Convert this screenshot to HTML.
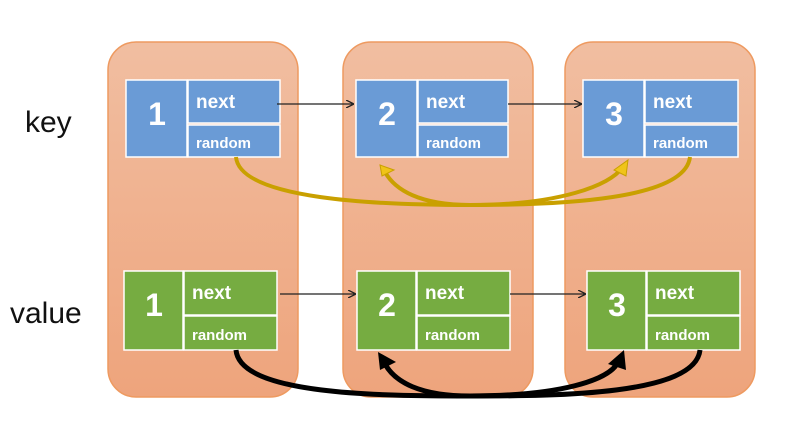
<html><head><style>body{margin:0;background:#fff}</style></head><body>
<svg width="797" height="446" xmlns="http://www.w3.org/2000/svg" font-family="Liberation Sans, sans-serif">
<defs>
<linearGradient id="g" x1="0" y1="0" x2="0" y2="1"><stop offset="0" stop-color="#f1bea1"/><stop offset="1" stop-color="#eea47c"/></linearGradient>
<marker id="a" markerWidth="8" markerHeight="8" refX="7" refY="4" orient="auto" markerUnits="userSpaceOnUse"><path d="M0,0 L8,4 L0,8" fill="none" stroke="#222" stroke-width="1.3"/></marker>
</defs>
<g fill="url(#g)" stroke="#ee9a60" stroke-width="1.5">
<rect x="108" y="42" width="190" height="355" rx="28"/>
<rect x="343" y="42" width="190" height="355" rx="28"/>
<rect x="565" y="42" width="190" height="355" rx="28"/>
</g>
<text x="25" y="132" font-size="30" fill="#111">key</text>
<text x="10" y="323" font-size="30" fill="#111">value</text>
<g stroke="#fff" stroke-width="1.5" fill="#6a9bd6">
<rect x="126" y="80" width="61" height="77"/><rect x="188" y="80" width="92" height="43"/><rect x="188" y="125" width="92" height="32"/>
<rect x="356" y="80" width="61" height="77"/><rect x="418" y="80" width="90" height="43"/><rect x="418" y="125" width="90" height="32"/>
<rect x="583" y="80" width="61" height="77"/><rect x="645" y="80" width="93" height="43"/><rect x="645" y="125" width="93" height="32"/>
</g>
<g stroke="#fff" stroke-width="1.5" fill="#76ac41">
<rect x="124" y="271" width="59" height="79"/><rect x="184" y="271" width="93" height="44"/><rect x="184" y="316" width="93" height="34"/>
<rect x="357" y="271" width="59" height="79"/><rect x="417" y="271" width="93" height="44"/><rect x="417" y="316" width="93" height="34"/>
<rect x="587" y="271" width="59" height="79"/><rect x="647" y="271" width="93" height="44"/><rect x="647" y="316" width="93" height="34"/>
</g>
<g fill="#fff" font-weight="bold">
<g font-size="32" text-anchor="middle"><text x="157" y="125">1</text><text x="387" y="125">2</text><text x="614" y="125">3</text>
<text x="154" y="316">1</text><text x="387" y="316">2</text><text x="617" y="316">3</text></g>
<g font-size="19"><text x="196" y="108">next</text><text x="426" y="108">next</text><text x="653" y="108">next</text>
<text x="192" y="299">next</text><text x="425" y="299">next</text><text x="655" y="299">next</text></g>
<g font-size="15"><text x="196" y="148">random</text><text x="426" y="148">random</text><text x="653" y="148">random</text>
<text x="192" y="340">random</text><text x="425" y="340">random</text><text x="655" y="340">random</text></g>
</g>
<g stroke="#222" stroke-width="1.3" marker-end="url(#a)">
<line x1="277" y1="104" x2="353" y2="104"/><line x1="508" y1="104" x2="581" y2="104"/>
<line x1="280" y1="294" x2="355" y2="294"/><line x1="510" y1="294" x2="585" y2="294"/>
</g>
<g fill="none" stroke="#c9a000" stroke-width="4">
<path d="M236,157 C240,200 380,205 470,205 C560,205 610,185 622,168"/>
<path d="M690,157 C685,200 560,205 470,205 C420,205 395,190 385,172"/>
</g>
<path d="M614,170 L628,160 L626,176 Z" fill="#f0c419" stroke="#c9a000"/>
<path d="M380,165 L394,170 L382,176 Z" fill="#f0c419" stroke="#c9a000"/>
<g fill="none" stroke="#000" stroke-width="5">
<path d="M236,350 C240,395 380,396 470,396 C560,396 610,380 618,362"/>
<path d="M700,350 C695,395 560,396 470,396 C420,396 395,382 385,364"/>
</g>
<path d="M608,364 L624,350 L626,370 Z" fill="#000"/>
<path d="M378,352 L396,362 L380,370 Z" fill="#000"/>
</svg>
</body></html>
